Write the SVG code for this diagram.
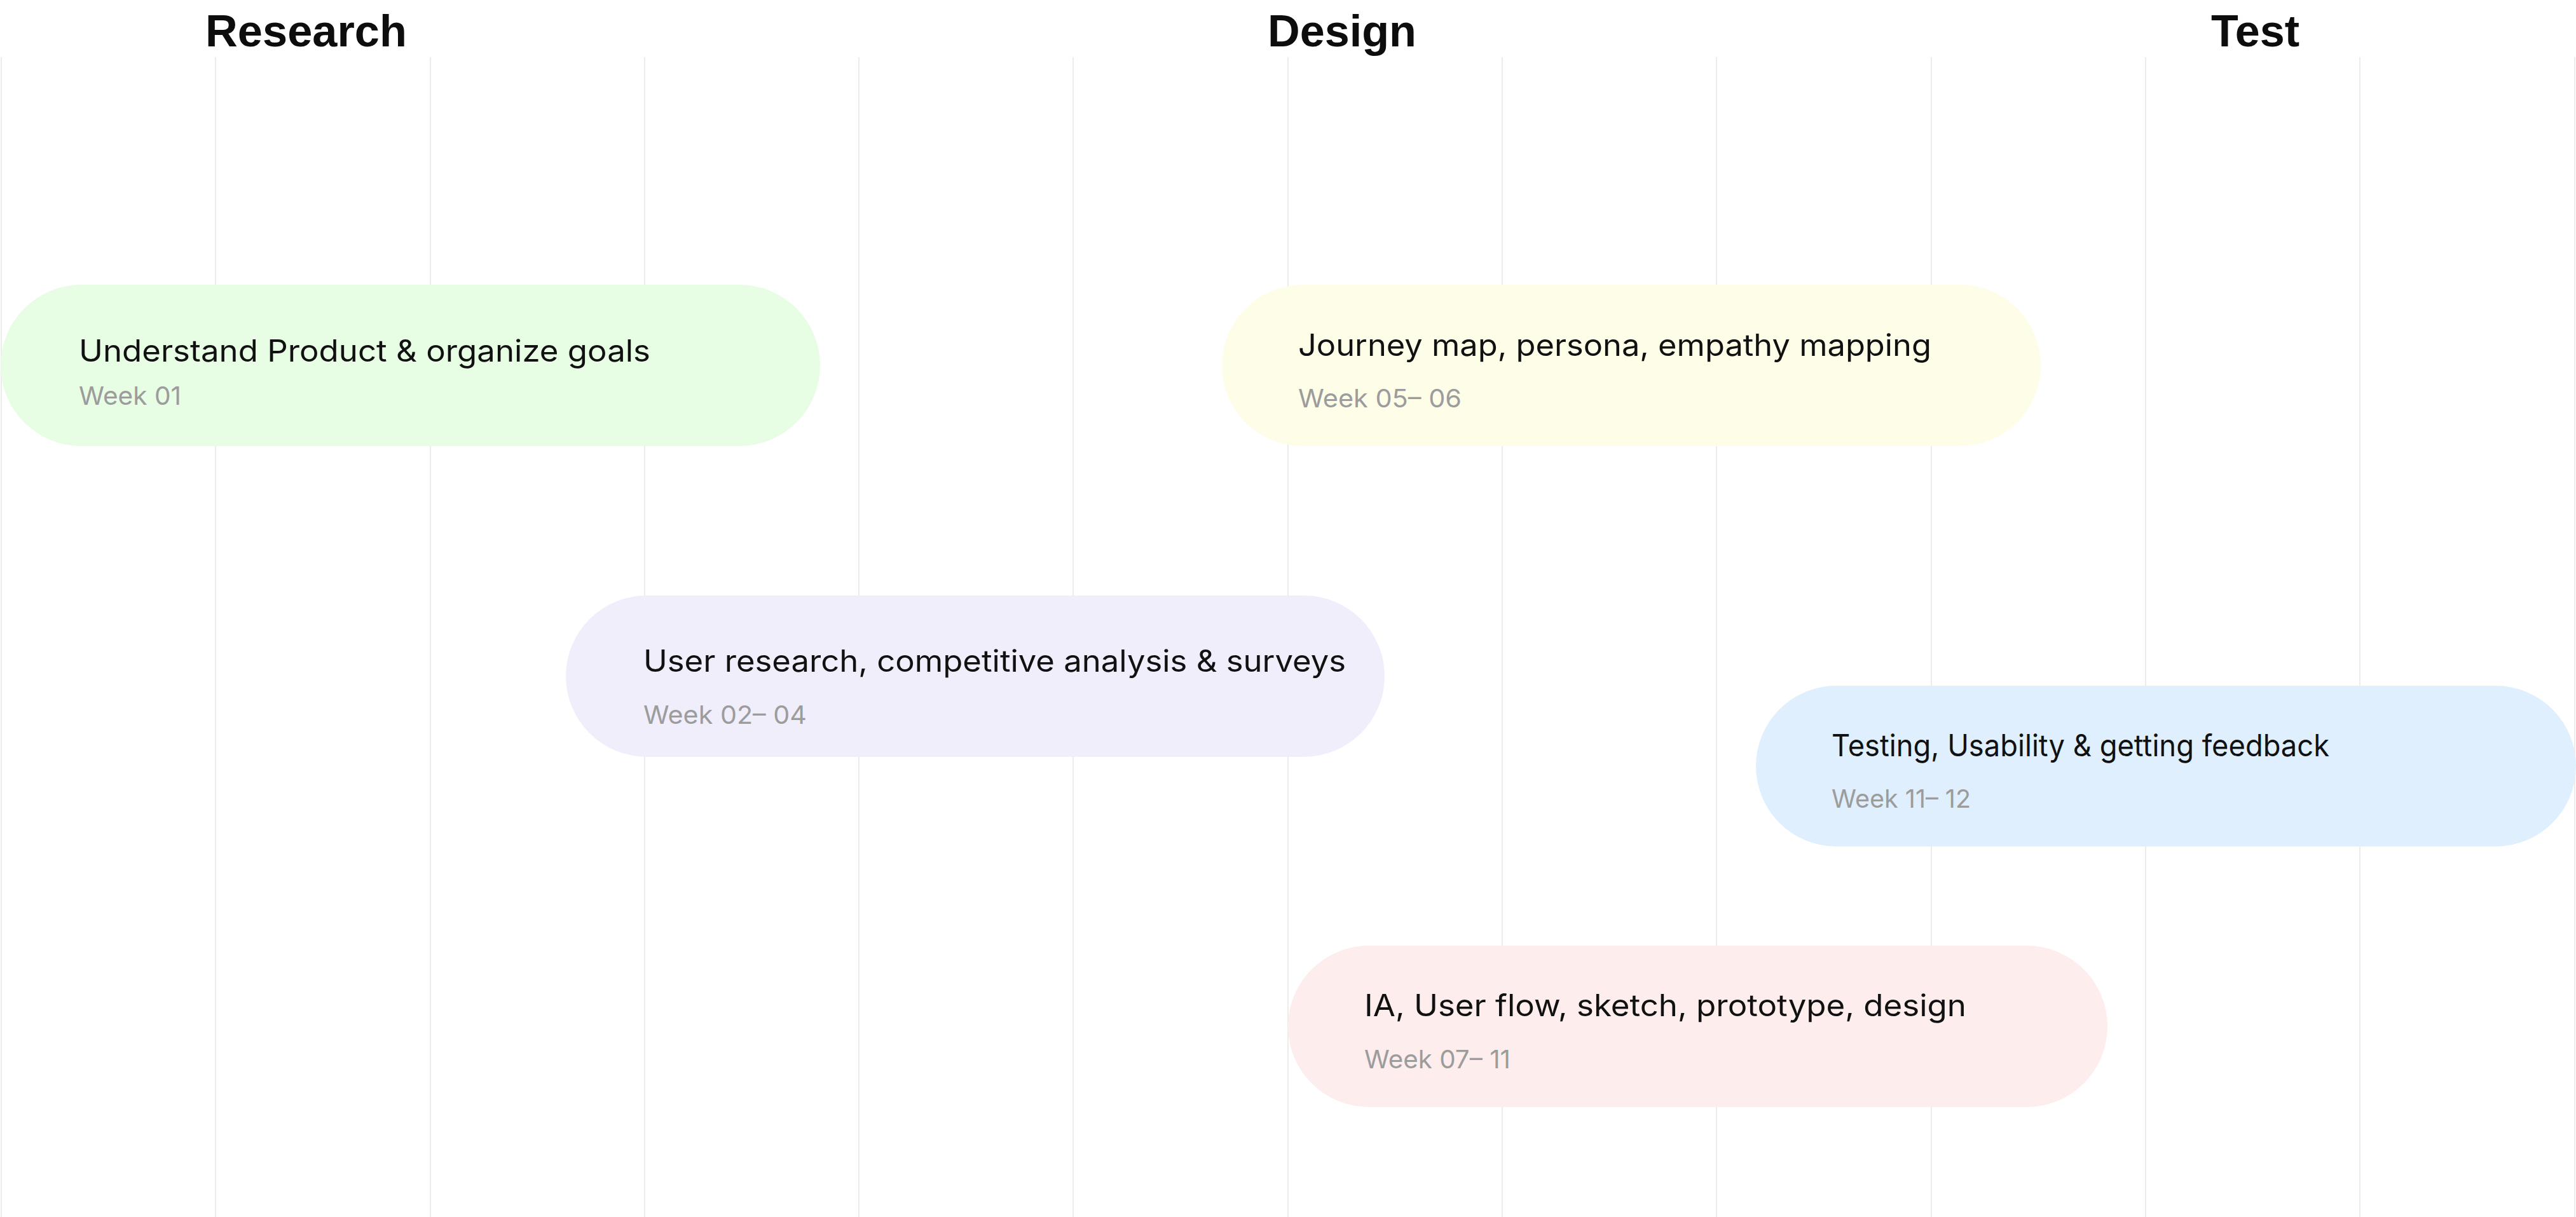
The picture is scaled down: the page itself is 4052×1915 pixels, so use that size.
<svg xmlns="http://www.w3.org/2000/svg" width="4052" height="1915" viewBox="0 0 4052 1915">
<style>
.grid line{stroke:#ececec;stroke-width:2}
.phase{font-family:"Liberation Sans",Arial,sans-serif;font-weight:700;font-size:71px;fill:#0d0d0d}
.title{font-family:Inter,"Noto Sans",sans-serif;font-size:48px;fill:#111111}
.sub{font-family:Inter,"Noto Sans",sans-serif;font-size:40px;fill:#9c9c9c}
</style>
<rect x="0" y="0" width="4052" height="1915" fill="#ffffff"/>
<g id="grid" class="grid">
<line x1="2" y1="90" x2="2" y2="1915"/>
<line x1="339" y1="90" x2="339" y2="1915"/>
<line x1="677" y1="90" x2="677" y2="1915"/>
<line x1="1014" y1="90" x2="1014" y2="1915"/>
<line x1="1351" y1="90" x2="1351" y2="1915"/>
<line x1="1688" y1="90" x2="1688" y2="1915"/>
<line x1="2026" y1="90" x2="2026" y2="1915"/>
<line x1="2363" y1="90" x2="2363" y2="1915"/>
<line x1="2700" y1="90" x2="2700" y2="1915"/>
<line x1="3038" y1="90" x2="3038" y2="1915"/>
<line x1="3375" y1="90" x2="3375" y2="1915"/>
<line x1="3712" y1="90" x2="3712" y2="1915"/>
<line x1="4050" y1="90" x2="4050" y2="1915"/>
</g>
<g id="phases">
<text class="phase" x="323" y="73" textLength="317" lengthAdjust="spacingAndGlyphs">Research</text>
<text class="phase" x="1994" y="73" textLength="234" lengthAdjust="spacingAndGlyphs">Design</text>
<text class="phase" x="3478" y="73" textLength="139" lengthAdjust="spacingAndGlyphs">Test</text>
</g>
<g id="connectors"></g>
<g id="node-understand">
<rect x="1" y="448" width="1289" height="254" rx="127" fill="#e7fde4"/>
<text class="title" x="124" y="569" textLength="899" lengthAdjust="spacingAndGlyphs">Understand Product &amp; organize goals</text>
<text class="sub" x="124" y="637" textLength="161" lengthAdjust="spacingAndGlyphs">Week 01</text>
</g>
<g id="node-user-research">
<rect x="890" y="937" width="1288" height="254" rx="127" fill="#f1eefc"/>
<text class="title" x="1012" y="1057" textLength="1105" lengthAdjust="spacingAndGlyphs">User research, competitive analysis &amp; surveys</text>
<text class="sub" x="1012" y="1139" textLength="257" lengthAdjust="spacingAndGlyphs">Week 02– 04</text>
</g>
<g id="node-journey">
<rect x="1922" y="448" width="1288" height="254" rx="127" fill="#fefde8"/>
<text class="title" x="2042" y="560" textLength="996" lengthAdjust="spacingAndGlyphs">Journey map, persona, empathy mapping</text>
<text class="sub" x="2042" y="641" textLength="257" lengthAdjust="spacingAndGlyphs">Week 05– 06</text>
</g>
<g id="node-testing">
<rect x="2762" y="1079" width="1290" height="253" rx="126.5" fill="#dfeffd"/>
<text class="title" x="2881" y="1190" textLength="783" lengthAdjust="spacingAndGlyphs">Testing, Usability &amp; getting feedback</text>
<text class="sub" x="2881" y="1271" textLength="219" lengthAdjust="spacingAndGlyphs">Week 11– 12</text>
</g>
<g id="node-ia">
<rect x="2026" y="1488" width="1289" height="254" rx="127" fill="#fdeded"/>
<text class="title" x="2146" y="1599" textLength="947" lengthAdjust="spacingAndGlyphs">IA, User flow, sketch, prototype, design</text>
<text class="sub" x="2146" y="1681" textLength="230" lengthAdjust="spacingAndGlyphs">Week 07– 11</text>
</g>
</svg>
